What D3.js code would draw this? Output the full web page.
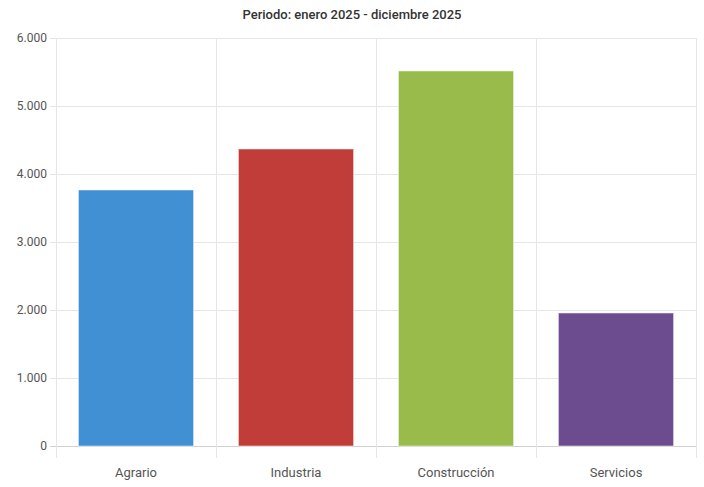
<!DOCTYPE html>
<html>
<head>
<meta charset="utf-8">
<script src="https://cdn.jsdelivr.net/npm/d3@7"></script>
<style>
  body { margin: 0; background: #fff; }
  text { font-family: "Roboto", sans-serif; }
</style>
</head>
<body>
<svg width="704" height="487"></svg>
<script>
const categories = ["Agrario", "Industria", "Construcción", "Servicios"];
const values = [3765, 4368, 5515, 1956];
const colors = ["#4190d4", "#c13d3a", "#98bb4c", "#6c4c8e"];
const yTicks = [0, 1000, 2000, 3000, 4000, 5000, 6000];
const title = "Periodo: enero 2025 - diciembre 2025";

const svg = d3.select("svg");
const margin = { top: 38, left: 56, right: 8, bottom: 41 };
const width = 704 - margin.left - margin.right;
const height = 487 - margin.top - margin.bottom;

const x = d3.scaleBand()
  .domain(categories)
  .range([margin.left, margin.left + width])
  .paddingInner(0.28)
  .paddingOuter(0.14);

const y = d3.scaleLinear()
  .domain([0, 6000])
  .range([margin.top + height, margin.top]);

const fmt = d => d3.format(",")(d).replace(/,/g, ".");

// horizontal grid
svg.append("g")
  .selectAll("line")
  .data(yTicks)
  .enter().append("line")
  .attr("x1", margin.left - 6)
  .attr("x2", margin.left + width)
  .attr("y1", d => y(d) + 0.5)
  .attr("y2", d => y(d) + 0.5)
  .attr("stroke", d => d === 0 ? "#d0d0d0" : "#e6e6e6");

// vertical grid at band edges
const step = x.step();
const edges = categories.map(c => x(c) - step * 0.14).concat([margin.left + width]);
svg.append("g")
  .selectAll("line")
  .data(edges)
  .enter().append("line")
  .attr("x1", d => Math.round(d) + 0.5)
  .attr("x2", d => Math.round(d) + 0.5)
  .attr("y1", margin.top)
  .attr("y2", margin.top + height + 12)
  .attr("stroke", "#e6e6e6");

// y labels
svg.append("g")
  .selectAll("text")
  .data(yTicks)
  .enter().append("text")
  .attr("x", margin.left - 9)
  .attr("y", d => y(d))
  .attr("dy", "0.35em")
  .attr("text-anchor", "end")
  .attr("font-size", 12)
  .attr("fill", "#555")
  .text(fmt);

// bars
svg.append("g")
  .selectAll("rect")
  .data(values)
  .enter().append("rect")
  .attr("x", (d, i) => x(categories[i]))
  .attr("y", d => y(d))
  .attr("width", x.bandwidth())
  .attr("height", d => y(0) - y(d))
  .attr("fill", (d, i) => colors[i])
  .attr("stroke", "rgba(255,255,255,0.5)")
  .attr("stroke-width", 1);

// x labels
svg.append("g")
  .selectAll("text")
  .data(categories)
  .enter().append("text")
  .attr("x", d => x(d) + x.bandwidth() / 2)
  .attr("y", 477)
  .attr("text-anchor", "middle")
  .attr("font-size", 13)
  .attr("fill", "#555")
  .text(d => d);

svg.append("text")
  .attr("x", 352)
  .attr("y", 19)
  .attr("text-anchor", "middle")
  .attr("font-size", 13)
  .attr("font-weight", 500)
  .attr("fill", "#333")
  .text(title);
</script>
</body>
</html>
